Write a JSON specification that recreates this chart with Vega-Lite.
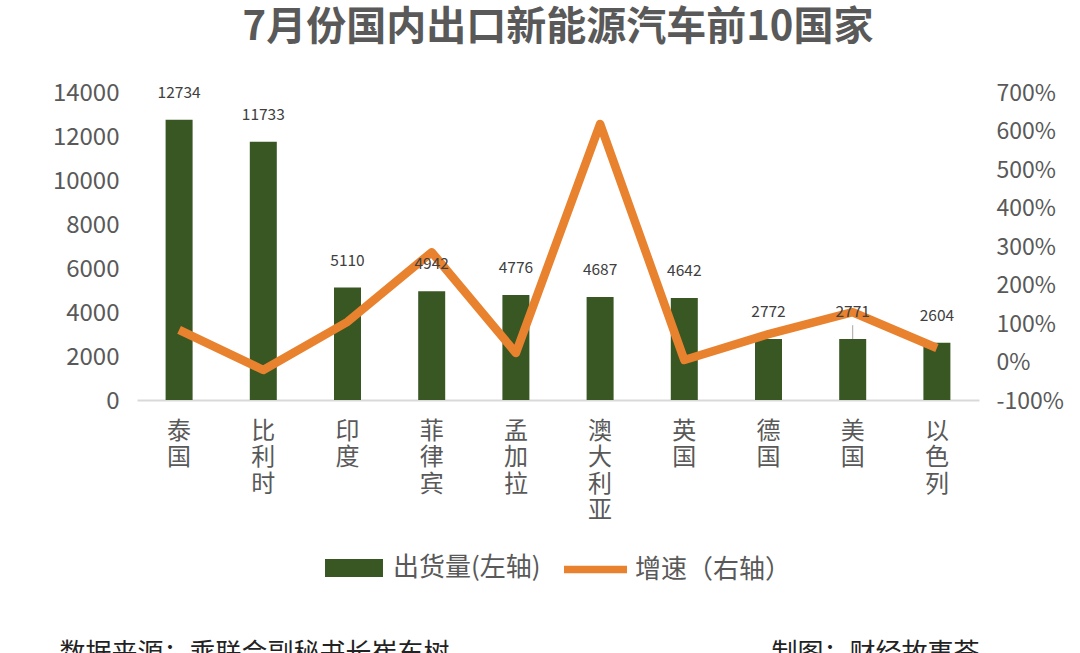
{"$schema":"https://vega.github.io/schema/vega-lite/v6.json","width":842,"height":308,"autosize":{"type":"none"},"padding":{"left":137,"top":92,"right":101,"bottom":253},"background":"white",
"title":{"text":"7月份国内出口新能源汽车前10国家","font":"Noto Sans CJK SC","fontSize":40,"fontWeight":"bold","color":"#595959","anchor":"middle","offset":33},
"config":{"view":{"stroke":null},"font":"Noto Sans CJK SC"},
"data":{"values":[
{"country":"泰国","shipments":12734,"growth":0.82},
{"country":"比利时","shipments":11733,"growth":-0.22},
{"country":"印度","shipments":5110,"growth":1.03},
{"country":"菲律宾","shipments":4942,"growth":2.84},
{"country":"孟加拉","shipments":4776,"growth":0.22},
{"country":"澳大利亚","shipments":4687,"growth":6.17},
{"country":"英国","shipments":4642,"growth":0.04},
{"country":"德国","shipments":2772,"growth":0.71},
{"country":"美国","shipments":2771,"growth":1.28,"leaderTop":3400},
{"country":"以色列","shipments":2604,"growth":0.35}]},
"layer":[
{"encoding":{
"x":{"field":"country","type":"nominal","sort":null,"scale":{"paddingInner":0,"paddingOuter":0},"axis":{"orient":"bottom","title":"数据来源：乘联会副秘书长崔东树","titleFont":"Noto Sans CJK SC","titleFontSize":26,"titleFontWeight":"normal","titleColor":"#222222","titleAnchor":"start","titleAlign":"left","titleX":-78,"titleY":240,"labelAngle":0,"labelAlign":"center","labelBaseline":"top","labelFontSize":24,"labelColor":"#595959","labelPadding":19,"labelLineHeight":26.5,"labelExpr":"split(datum.label,'')","ticks":false,"domainColor":"#D9D9D9","domainWidth":2}},
"y":{"field":"shipments","type":"quantitative","scale":{"domain":[0,14000],"nice":false},"axis":{"title":null,"values":[0,2000,4000,6000,8000,10000,12000,14000],"format":"d","domain":false,"ticks":false,"grid":false,"labelFontSize":24,"labelColor":"#595959","labelPadding":18,"labelOffset":1}}},
"layer":[
{"transform":[{"calculate":"'出货量(左轴)'","as":"series"}],"mark":{"type":"bar","size":27},
"encoding":{
"fill":{"field":"series","type":"nominal","scale":{"domain":["出货量(左轴)"],"range":["#385723"]},"legend":{"title":null,"orient":"none","legendX":188,"legendY":447,"symbolType":"M-1,-0.31H1V0.31H-1Z","symbolSize":3360,"symbolStrokeWidth":0,"labelFontSize":26,"labelColor":"#595959","labelOffset":10}}}},
{"transform":[{"filter":"isValid(datum.leaderTop)"}],"mark":{"type":"rule","color":"#A6A6A6","strokeWidth":1},
"encoding":{"y2":{"field":"leaderTop"}}}
]},
{"mark":{"type":"line","strokeWidth":8.5,"strokeJoin":"round"},
"transform":[{"calculate":"'增速（右轴）'","as":"series2"}],
"encoding":{
"x":{"field":"country","type":"nominal","sort":null,"axis":{"orient":"bottom","title":"制图：财经故事荟","titleFont":"Noto Sans CJK SC","titleFontSize":26,"titleFontWeight":"normal","titleColor":"#222222","titleAnchor":"start","titleAlign":"left","titleX":634,"titleY":240,"labels":false,"ticks":false,"domain":false}},
"y":{"field":"growth","type":"quantitative","scale":{"domain":[-1,7],"nice":false},"axis":{"orient":"right","title":null,"values":[-1,0,1,2,3,4,5,6,7],"format":".0%","labelExpr":"replace(datum.label,'−','-')","domain":false,"ticks":false,"grid":false,"labelFontSize":23,"labelColor":"#595959","labelPadding":17,"labelOffset":1}},
"stroke":{"field":"series2","type":"nominal","scale":{"domain":["增速（右轴）"],"range":["#E9822F"]},"legend":{"title":null,"orient":"none","legendX":427,"legendY":446,"symbolType":"M-1,-0.12H1V0.12H-1Z","symbolSize":3969,"symbolStrokeWidth":0,"symbolFillColor":"#E9822F","labelFontSize":26,"labelColor":"#595959","labelOffset":8}}}},
{"mark":{"type":"text","dy":-27,"fontSize":15.5,"color":"#404040","font":"Noto Sans CJK SC"},
"encoding":{"x":{"field":"country","type":"nominal","sort":null,"axis":null},"y":{"field":"shipments","type":"quantitative","scale":{"domain":[0,14000],"nice":false},"axis":null},"text":{"field":"shipments","type":"quantitative","format":"d"}}}
],
"resolve":{"scale":{"y":"independent"},"axis":{"x":"independent","y":"independent"}}}
